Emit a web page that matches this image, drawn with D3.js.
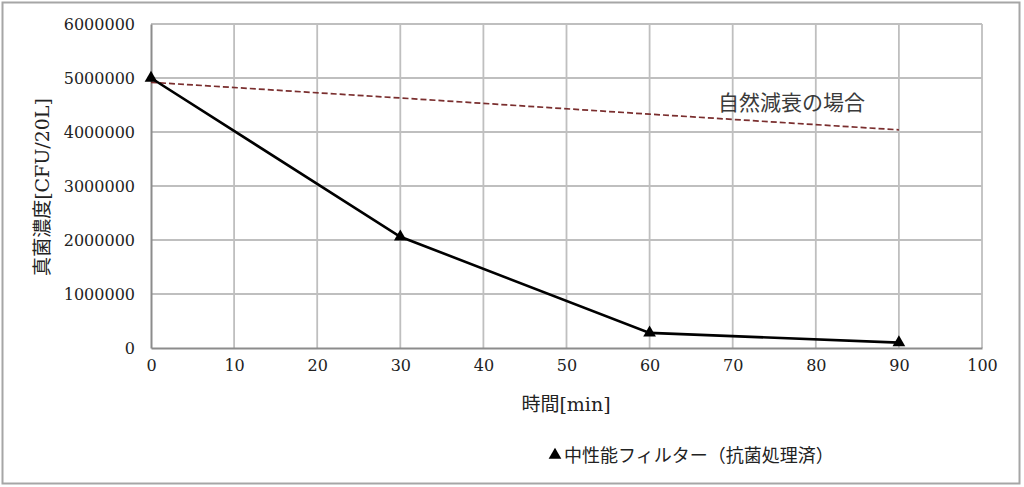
<!DOCTYPE html>
<html>
<head>
<meta charset="utf-8">
<script src="https://cdn.jsdelivr.net/npm/d3@7"></script>
<style>
  html, body { margin: 0; padding: 0; background: #fff; }
  svg { display: block; }
</style>
</head>
<body>
<svg id="chart" width="1024" height="487"></svg>
<script>
// ---- data ----
const times = [0, 30, 60, 90];
const filterValues = [5000000, 2060000, 280000, 100000];
const naturalValues = [4920000, 4630000, 4330000, 4040000];
const xTicks = [0, 10, 20, 30, 40, 50, 60, 70, 80, 90, 100];
const yTicks = [0, 1000000, 2000000, 3000000, 4000000, 5000000, 6000000];
const xTitle = "時間[min]";
const yTitle = "真菌濃度[CFU/20L]";
const naturalLabel = "自然減衰の場合";
const legendLabel = "中性能フィルター（抗菌処理済）";

// ---- layout ----
const W = 1024, H = 487;
const m = { left: 151, right: W - 982, top: 24, bottom: H - 348 };
const svg = d3.select("#chart");
const serif = "'DejaVu Serif', 'Noto Sans CJK JP', serif";
const cjk = "'Noto Sans CJK JP', sans-serif";

const x = d3.scaleLinear().domain([0, 100]).range([m.left, W - m.right]);
const y = d3.scaleLinear().domain([0, 6000000]).range([H - m.bottom, m.top]);

// outer frame
svg.append("rect").attr("x", 2.5).attr("y", 2.5).attr("width", 1017).attr("height", 481)
  .attr("fill", "#fff").attr("stroke", "#a6a6a6").attr("stroke-width", 2);

// gridlines
const grid = svg.append("g");
grid.selectAll("line.v").data(xTicks.filter(d => d > 0)).join("line")
  .attr("x1", d => x(d)).attr("x2", d => x(d))
  .attr("y1", y(6000000)).attr("y2", y(0))
  .attr("stroke", "#bfbfbf").attr("stroke-width", 1.8);
grid.selectAll("line.h").data(yTicks.filter(d => d > 0)).join("line")
  .attr("x1", x(0)).attr("x2", x(100))
  .attr("y1", d => y(d)).attr("y2", d => y(d))
  .attr("stroke", "#bfbfbf").attr("stroke-width", 1.8);

// axes
const xAxis = svg.append("g").attr("transform", `translate(0,${y(0)})`)
  .call(d3.axisBottom(x).tickValues(xTicks).tickSize(0).tickPadding(12).tickFormat(d3.format("d")));
const yAxis = svg.append("g").attr("transform", `translate(${x(0)},0)`)
  .call(d3.axisLeft(y).tickValues(yTicks).tickSize(0).tickPadding(16).tickFormat(d3.format("d")));
[xAxis, yAxis].forEach(a => {
  a.attr("font-family", serif).attr("font-size", 16);
  a.select(".domain").attr("stroke", "#8c8c8c").attr("stroke-width", 2);
  a.selectAll("text").attr("font-family", serif).attr("font-size", 16).attr("fill", "#222");
});

// natural decay dashed line
svg.append("path")
  .datum(times.map((t, i) => [t, naturalValues[i]]))
  .attr("d", d3.line().x(d => x(d[0])).y(d => y(d[1])))
  .attr("fill", "none").attr("stroke", "#7a2e2e").attr("stroke-width", 1.7)
  .attr("stroke-dasharray", "6,3");

// filter series
svg.append("path")
  .datum(times.map((t, i) => [t, filterValues[i]]))
  .attr("d", d3.line().x(d => x(d[0])).y(d => y(d[1])))
  .attr("fill", "none").attr("stroke", "#000").attr("stroke-width", 2.6);

svg.selectAll("path.marker").data(times.map((t, i) => [t, filterValues[i]])).join("path")
  .attr("class", "marker")
  .attr("d", d3.symbol(d3.symbolTriangle, 70))
  .attr("transform", d => `translate(${x(d[0])},${y(d[1])})`)
  .attr("fill", "#000");

// annotation
svg.append("text").attr("x", 718).attr("y", 110)
  .attr("font-family", cjk).attr("font-size", 21).attr("fill", "#3a3a3a")
  .text(naturalLabel);

// axis titles
svg.append("text").attr("x", 566).attr("y", 411).attr("text-anchor", "middle")
  .attr("font-family", serif).attr("font-size", 19).attr("fill", "#222")
  .text(xTitle);
svg.append("text").attr("transform", "translate(49,187) rotate(-90)").attr("text-anchor", "middle")
  .attr("font-family", serif).attr("font-size", 19).attr("fill", "#222")
  .text(yTitle);

// legend
const lg = svg.append("g").attr("transform", "translate(555,455)");
lg.append("path").attr("d", d3.symbol(d3.symbolTriangle, 70)).attr("fill", "#000");
lg.append("text").attr("x", 9).attr("y", 6.5)
  .attr("font-family", cjk).attr("font-size", 18).attr("fill", "#222")
  .text(legendLabel);
</script>
</body>
</html>
